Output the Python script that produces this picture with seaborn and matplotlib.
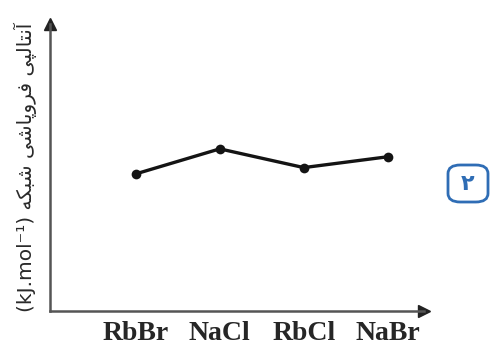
import matplotlib
matplotlib.use("Agg")
import matplotlib.pyplot as plt
from matplotlib.patches import FancyBboxPatch
import seaborn as sns
import pandas as pd

# Lattice enthalpy of alkali halides (kJ/mol)
salts = ["RbBr", "NaCl", "RbCl", "NaBr"]
enthalpy = [660, 787, 692, 747]

# Axis title, pre-shaped Persian glyphs in visual (left-to-right) order
w1 = "\uFE81\uFEE7\uFE98\uFE8E\uFEDF\uFB59\uFBFD"          # آنتالپی
w2 = "\uFED3\uFEAE\uFEED\uFB58\uFE8E\uFEB7\uFBFD"          # فروپاشی
w3 = "\uFEB7\uFE92\uFB91\uFEEA"                            # شبکه
ylabel = "(kJ.mol\u207B\u00B9) " + w3[::-1] + " " + w2[::-1] + " " + w1[::-1]
badge = "\u06F2"

df = pd.DataFrame({"salt": salts, "enthalpy": enthalpy})

sns.set_style("white")
fig = plt.figure(figsize=(4.9, 3.45), dpi=100)
ax = fig.add_axes([50 / 490, 34 / 345, 374 / 490, 287 / 345])

sns.lineplot(data=df, x="salt", y="enthalpy", ax=ax, color="#141414",
             linewidth=2.4, marker="o", markersize=7, markeredgewidth=0,
             sort=False)

ax.set_xlim(-1.02, 3.43)
ax.set_ylim(-35, 1420)
ax.set_yticks([])
ax.set_xticks(range(len(salts)))
ax.set_xticklabels(salts, family="Liberation Serif", weight="bold",
                   fontsize=20, color="#262626")
ax.tick_params(axis="x", direction="in", length=4, width=1.2,
               color="#555555", pad=7)
ax.set_xlabel("")
ax.set_ylabel(ylabel, family=["DejaVu Sans"], fontsize=14.5,
              color="#2a2a2a")
ax.yaxis.set_label_coords(-0.035, 0.5)

for side in ("top", "right"):
    ax.spines[side].set_visible(False)
for side in ("left", "bottom"):
    ax.spines[side].set_color("#555555")
    ax.spines[side].set_linewidth(1.8)

# arrowheads at the ends of the axes
ax.plot(1, 0, marker=">", color="#222222", markersize=9,
        transform=ax.transAxes, clip_on=False)
ax.plot(0, 1, marker="^", color="#222222", markersize=9,
        transform=ax.transAxes, clip_on=False)

# numbered badge on the right
bx0, by0, bw, bh = 448 / 490, (345 - 202) / 345, 40 / 490, 37 / 345
fig.patches.append(FancyBboxPatch((bx0, by0), bw, bh,
                                  boxstyle="round,pad=0,rounding_size=0.025",
                                  transform=fig.transFigure, facecolor="white",
                                  edgecolor="#2f6db5", linewidth=2))
fig.text(bx0 + bw / 2, by0 + bh / 2, badge, ha="center", va="center",
         fontsize=16, weight="bold", color="#2f6db5", family=["DejaVu Sans"])

fig.savefig("out.png", dpi=100, facecolor="white")
